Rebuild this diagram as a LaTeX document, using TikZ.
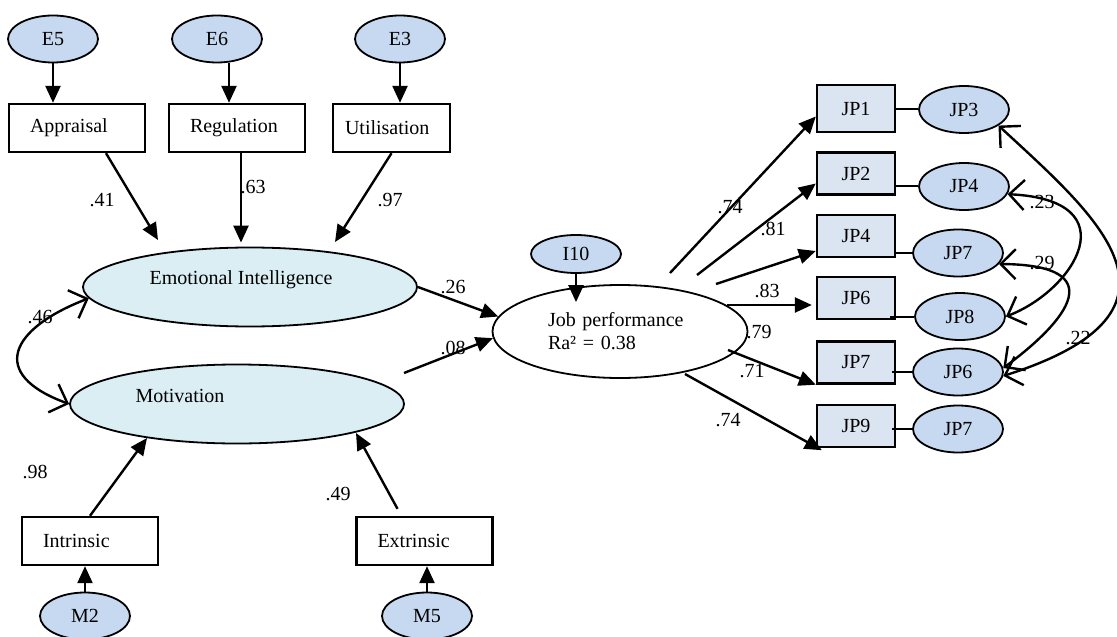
\documentclass[tikz,border=0pt]{standalone}
\usepackage{fontspec}
\setmainfont{Liberation Serif}
\usetikzlibrary{arrows.meta,shapes.geometric,calc}
\definecolor{errfill}{RGB}{198,217,240}
\definecolor{latfill}{RGB}{218,238,243}
\definecolor{jpfill}{RGB}{219,229,241}
\begin{document}
\begin{tikzpicture}[x=0.5pt,y=-0.5pt,font=\fontsize{10}{12}\selectfont,
    err/.style={ellipse,draw,line width=0.9pt,fill=errfill,minimum width=45pt,minimum height=23.5pt,inner sep=0pt},
    lat/.style={ellipse,draw,line width=0.9pt,fill=latfill,minimum width=167pt,minimum height=39.5pt},
    obs/.style={draw,line width=1.2pt,minimum height=24pt,text width=47pt,inner xsep=10.5pt,inner ysep=0pt,align=left},
    ind/.style={draw,line width=1.2pt,fill=jpfill,minimum width=39pt,minimum height=21pt,inner sep=0pt},
    coef/.style={inner sep=0pt},
    load/.style={line width=1.2pt,-{Triangle[length=8.5pt,width=7.5pt]}},
    cov/.style={line width=1.2pt,{Straight Barb[length=7.5pt,width=15pt]}-{Straight Barb[length=7.5pt,width=15pt]}}]
  \useasboundingbox (0,0) rectangle (1117,636);
  % emotional intelligence block
  \node[err] (e5) at (53,39) {E5};
  \node[err] (e6) at (217,39) {E6};
  \node[err] (e3) at (400,39) {E3};
  \node[obs] (app) at (77,128) {Appraisal};
  \node[obs] (regu) at (237,128) {Regulation};
  \node[obs,inner xsep=6pt,text width=46.5pt] (util) at (391.5,128) {Utilisation};
  \node[lat,label={[xshift=-4.5pt,yshift=3.5pt]center:Emotional Intelligence}] (ei) at (250,287) {};
  % motivation block
  \node[lat,label={[xshift=-28.5pt,yshift=4pt]center:Motivation}] (mot) at (237,404) {};
  \node[obs] (intr) at (90,541) {Intrinsic};
  \node[obs] (extr) at (424.5,541) {Extrinsic};
  \node[err] (m2) at (85,616) {M2};
  \node[err] (m5) at (427,616) {M5};
  % outcome
  \node[err,minimum height=19pt] (i10) at (576,254) {I10};
  \node[ellipse,draw,line width=0.9pt,minimum width=127.5pt,minimum height=46.5pt,
        text width=72pt,align=left,font=\fontsize{10}{11.5}\selectfont] (jp) at (620,331.5)
        {Job performance\\Ra² = 0.38};
  \node[ind,minimum height=23.5pt] (jp1) at (856,108.5) {JP1};
  \node[ind] (jp2) at (856,173.5) {JP2};
  \node[ind] (jp4) at (856,236) {JP4};
  \node[ind] (jp6) at (856,298) {JP6};
  \node[ind] (jp7) at (856,362.5) {JP7};
  \node[ind] (jp9) at (856,426) {JP9};
  \node[err] (jpe3) at (964,109.5) {JP3};
  \node[err] (jpe4) at (964,186.5) {JP4};
  \node[err] (jpe7) at (958,253) {JP7};
  \node[err] (jpe8) at (960,316.5) {JP8};
  \node[err] (jpe6) at (958,372) {JP6};
  \node[err] (jpe7b) at (958,429) {JP7};
  % free ends
  \coordinate (hA) at (158,240);
  \coordinate (hU) at (335,242);
  \coordinate (hI) at (147,438);
  \coordinate (hE) at (356,433);
  \coordinate (tM) at (404,373);
  \coordinate (t1) at (670,273);
  \coordinate (t2) at (697,275);
  \coordinate (t4) at (716,284);
  \coordinate (t6) at (727,305);
  \coordinate (t7) at (728,350);
  \coordinate (t9) at (685,374);
  % paths
  \draw[load] (e5.south) -- (e5.south |- app.north);
  \draw[load] ([xshift=6pt]e6.south) -- ([xshift=6pt]e6.south |- regu.north);
  \draw[load] (e3.south) -- (e3.south |- util.north);
  \draw[load] ([xshift=14.5pt]app.south) -- (hA);
  \draw[load] ([xshift=2pt]regu.south) -- ($([xshift=2pt]regu.south |- ei.north)+(0,-4)$);
  \draw[load] (util.south) -- (hU);
  \draw[load] (m2.north) -- (m2.north |- intr.south);
  \draw[load] (m5.north) -- (m5.north |- extr.south);
  \draw[load] (intr.north) -- (hI);
  \draw[load] ($(extr.north)+(-27,-7)$) -- (hE);
  \draw[load] (i10.south) -- ($(i10.south |- jp.north)+(0,18)$);
  \draw[load] (ei.east) -- (jp.173);
  \draw[load] (tM) -- (jp.183);
  \draw[load] (t1) -- ([yshift=-4pt]jp1.west);
  \draw[load] (t2) -- ([yshift=-5pt]jp2.west);
  \draw[load] (t4) -- ([yshift=-7.5pt]jp4.west);
  \draw[load] (t6) -- ([xshift=-2pt,yshift=-3.5pt]jp6.west);
  \draw[load] (t7) -- (jp7.south west);
  \draw[load] (t9) -- ([xshift=3pt,yshift=-1pt]jp9.south west);
  % residual links
  \draw[line width=1pt] (jp1.east |- jpe3.west) -- (jpe3.west);
  \draw[line width=1pt] (jp2.east |- jpe4.west) -- (jpe4.west);
  \draw[line width=1pt] (jp4.east |- jpe7.west) -- (jpe7.west);
  \draw[line width=1pt] ([xshift=-3pt]jp6.east |- jpe8.west) -- (jpe8.west);
  \draw[line width=1pt] ([xshift=-2pt]jp7.east |- jpe6.west) -- (jpe6.west);
  \draw[line width=1pt] ([xshift=-2pt]jp9.east |- jpe7b.west) -- (jpe7b.west);
  % covariances
  \draw[cov] (ei.184) .. controls +(-78,30) and +(-82,-30) .. (mot.west);
  \draw[cov] (jpe4.-10) .. controls (1130,200) and (1075,290) .. (jpe8.east);
  \draw[cov] (jpe7.-15) .. controls (1112,265) and (1068,320) .. (jpe6.5);
  \draw[cov] (jpe3.-25) .. controls (1095,215) and (1210,310) .. (jpe6.-5);
  % coefficients
  \node[coef] (c41) at (102,200) {.41};
  \node[coef] (c63) at (253,187) {.63};
  \node[coef] (c97) at (390,200) {.97};
  \node[coef] (c46) at (40,317) {.46};
  \node[coef] (c98) at (35,472) {.98};
  \node[coef] (c49) at (338,494) {.49};
  \node[coef] (c26) at (453,287) {.26};
  \node[coef] (c08) at (453,348) {.08};
  \node[coef] (c74a) at (730,207) {.74};
  \node[coef] (c81) at (773,229) {.81};
  \node[coef] (c83) at (767,291) {.83};
  \node[coef] (c79) at (759,332) {.79};
  \node[coef] (c71) at (752,371) {.71};
  \node[coef] (c74b) at (728,420) {.74};
  \node[coef] (c23) at (1042,202) {.23};
  \node[coef] (c29) at (1042,263) {.29};
  \node[coef] (c22) at (1078,338) {.22};
\end{tikzpicture}
\end{document}
